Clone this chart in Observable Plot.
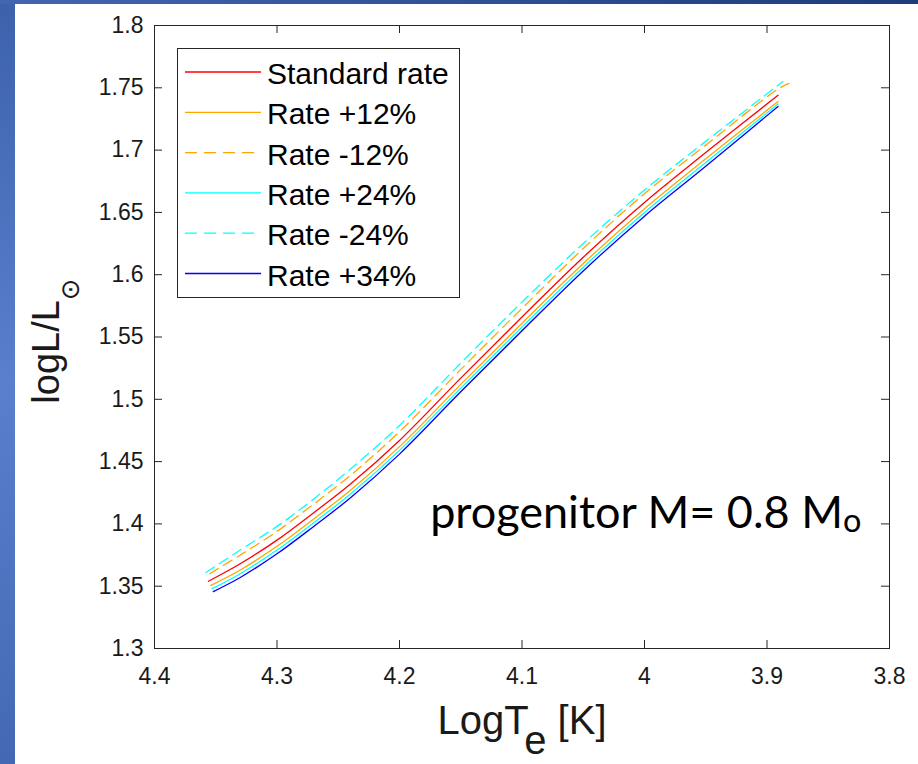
<!DOCTYPE html>
<html><head><meta charset="utf-8">
<script src="https://cdn.jsdelivr.net/npm/d3@7"></script>
<script src="https://cdn.jsdelivr.net/npm/@observablehq/plot@0.6"></script>
<style>
html,body{margin:0;padding:0;background:#fff;}
#wrap{position:relative;width:918px;height:764px;overflow:hidden;background:#fff;}
#left{position:absolute;left:0;top:0;width:15px;height:764px;background:linear-gradient(180deg,#3d61ab 0%,#5a7fcd 50%,#4468b3 100%);}
#top{position:absolute;left:0;top:0;width:918px;height:4px;background:linear-gradient(90deg,#4366b0,#1e3c7c);}
</style></head><body>
<div id="wrap"><div id="chart"></div><div id="left"></div><div id="top"></div></div>
<script>
// ---- data ----
const seriesNames  = ["Standard rate", "Rate +12%", "Rate -12%", "Rate +24%", "Rate -24%", "Rate +34%"];
const seriesColors = ["#ff0000", "#ffa500", "#ffa500", "#00ffff", "#00ffff", "#0000ff"];
const seriesDashed = [false, false, true, false, true, false];

const logTe_std = [4.356, 4.33, 4.3, 4.27, 4.24, 4.2, 4.15, 4.1, 4.05, 4.0, 3.95, 3.891];
const logL_std  = [1.354, 1.368, 1.387, 1.409, 1.432, 1.467, 1.517, 1.566, 1.614, 1.658, 1.698, 1.744];
const logTe_p12 = [4.354, 4.33, 4.3, 4.27, 4.24, 4.2, 4.15, 4.1, 4.05, 4.0, 3.95, 3.891];
const logL_p12  = [1.3506, 1.363, 1.382, 1.404, 1.427, 1.462, 1.512, 1.561, 1.609, 1.653, 1.693, 1.739];
const logTe_m12 = [4.355, 4.33, 4.3, 4.27, 4.24, 4.2, 4.15, 4.1, 4.05, 4.0, 3.95, 3.891, 3.882];
const logL_m12  = [1.360, 1.375, 1.394, 1.416, 1.439, 1.474, 1.524, 1.573, 1.621, 1.665, 1.704, 1.749, 1.7535];
const logTe_p24 = [4.353, 4.33, 4.3, 4.27, 4.24, 4.2, 4.15, 4.1, 4.05, 4.0, 3.95, 3.891];
const logL_p24  = [1.348, 1.360, 1.379, 1.401, 1.424, 1.459, 1.509, 1.558, 1.606, 1.650, 1.690, 1.737];
const logTe_m24 = [4.358, 4.33, 4.3, 4.27, 4.24, 4.2, 4.15, 4.1, 4.05, 4.0, 3.95, 3.887];
const logL_m24  = [1.361, 1.379, 1.398, 1.420, 1.444, 1.479, 1.529, 1.578, 1.625, 1.668, 1.707, 1.755];
const logTe_p34 = [4.352, 4.33, 4.3, 4.27, 4.24, 4.2, 4.15, 4.1, 4.05, 4.0, 3.95, 3.891];
const logL_p34  = [1.3457, 1.357, 1.376, 1.398, 1.421, 1.456, 1.506, 1.555, 1.603, 1.647, 1.687, 1.735];

const seriesT = [logTe_std, logTe_p12, logTe_m12, logTe_p24, logTe_m24, logTe_p34];
const seriesL = [logL_std, logL_p12, logL_m12, logL_p24, logL_m24, logL_p34];

const xTicks = [4.4, 4.3, 4.2, 4.1, 4.0, 3.9, 3.8];
const xTickLabels = ["4.4", "4.3", "4.2", "4.1", "4", "3.9", "3.8"];
const yTicks = [1.3, 1.35, 1.4, 1.45, 1.5, 1.55, 1.6, 1.65, 1.7, 1.75, 1.8];
const yTickLabels = ["1.3", "1.35", "1.4", "1.45", "1.5", "1.55", "1.6", "1.65", "1.7", "1.75", "1.8"];

const xLabelMain = "LogT", xLabelSub = "e", xLabelTail = " [K]";
const yLabelMain = "logL/L", yLabelSub = "\u2299";
const annText = "progenitor M= 0.8 M", annSub = "o";
const annX = 4.175, annY = 1.397;

// ---- build ----
const axisColor = "#262626";
const lookup = (ticks, labels) => d => labels[ticks.findIndex(v => Math.abs(v - d) < 1e-9)];

const lineMarks = seriesNames.map((name, i) =>
  Plot.line(seriesT[i].map((t, j) => ({t, l: seriesL[i][j]})), {
    x: "t", y: "l", stroke: seriesColors[i], strokeWidth: 1.3,
    strokeDasharray: seriesDashed[i] ? "10,6" : null, curve: "catmull-rom"
  })
);

const W = 918, H = 764, mL = 154, mR = 29, mT = 25, mB = 116;
const tick = 8;
const innerW = W - mL - mR, innerH = H - mT - mB;

const svg = Plot.plot({
  width: W, height: H,
  marginLeft: mL, marginRight: mR, marginTop: mT, marginBottom: mB,
  style: {fontFamily: "'Liberation Sans', Arial, Helvetica, sans-serif", color: axisColor, background: "transparent", overflow: "visible"},
  x: {domain: [3.8, 4.4], reverse: true},
  y: {domain: [1.3, 1.8]},
  marks: [
    ...lineMarks,
    Plot.frame({stroke: axisColor, strokeWidth: 1}),
    Plot.tickX(xTicks, {x: d => d, insetTop: innerH - tick, stroke: axisColor}),
    Plot.tickX(xTicks, {x: d => d, insetBottom: innerH - tick, stroke: axisColor}),
    Plot.tickY(yTicks, {y: d => d, insetRight: innerW - tick, stroke: axisColor}),
    Plot.tickY(yTicks, {y: d => d, insetLeft: innerW - tick, stroke: axisColor}),
    Plot.axisX({ticks: xTicks, tickFormat: lookup(xTicks, xTickLabels), tickSize: 0, tickPadding: 19, fontSize: 23, label: null, fill: "#1a1a1a"}),
    Plot.axisY({ticks: yTicks, tickFormat: lookup(yTicks, yTickLabels), tickSize: 0, tickPadding: 11, fontSize: 23, label: null, fill: "#1a1a1a"}),
    Plot.text([xLabelMain], {text: d => d, frameAnchor: "bottom", textAnchor: "middle", lineAnchor: "bottom", dy: 85, fontSize: 40, fill: "#1a1a1a", className: "xlab"}),
    Plot.text([yLabelMain], {text: d => d, frameAnchor: "left", rotate: -90, textAnchor: "middle", lineAnchor: "bottom", dx: -96, dy: 4, fontSize: 38, fill: "#1a1a1a", className: "ylab"}),
    Plot.text([{x: annX, y: annY, s: annText}], {x: "x", y: "y", text: "s", textAnchor: "start", lineAnchor: "bottom", fontSize: 45, fontFamily: "Lato, 'Open Sans', sans-serif", fill: "#000", className: "ann"})
  ]
});

const S = d3.select(svg);
// sub/superscripts
const xt = S.select("g.xlab text");
xt.append("tspan").attr("dy", "0.5em").text(xLabelSub);
xt.append("tspan").attr("dy", "-0.5em").style("white-space", "pre").text(xLabelTail);
const yt = S.select("g.ylab text");
yt.append("tspan").attr("dy", 20).attr("font-size", 26).attr("font-family", "'DejaVu Sans'").text(yLabelSub);
const at = S.select("g.ann text");
at.append("tspan").attr("dy", "0.12em").attr("font-size", "0.72em").text(annSub);

// legend
const lg = S.append("g").attr("class", "legend").attr("text-anchor", "start");
lg.append("rect").attr("x", 177.5).attr("y", 48.5).attr("width", 282).attr("height", 249)
  .attr("fill", "#fff").attr("stroke", axisColor).attr("stroke-width", 1);
seriesNames.forEach((name, i) => {
  const yy = 72 + i * 40.3;
  lg.append("line").attr("x1", 185).attr("x2", 261).attr("y1", yy).attr("y2", yy)
    .attr("stroke", seriesColors[i]).attr("stroke-width", 1.3)
    .attr("stroke-dasharray", seriesDashed[i] ? "12,7" : null);
  lg.append("text").attr("x", 267).attr("y", yy + 12).attr("font-size", 30)
    .attr("text-anchor", "start").attr("fill", "#000").style("white-space", "pre").text(name);
});

document.getElementById("chart").appendChild(svg);
</script></body></html>
